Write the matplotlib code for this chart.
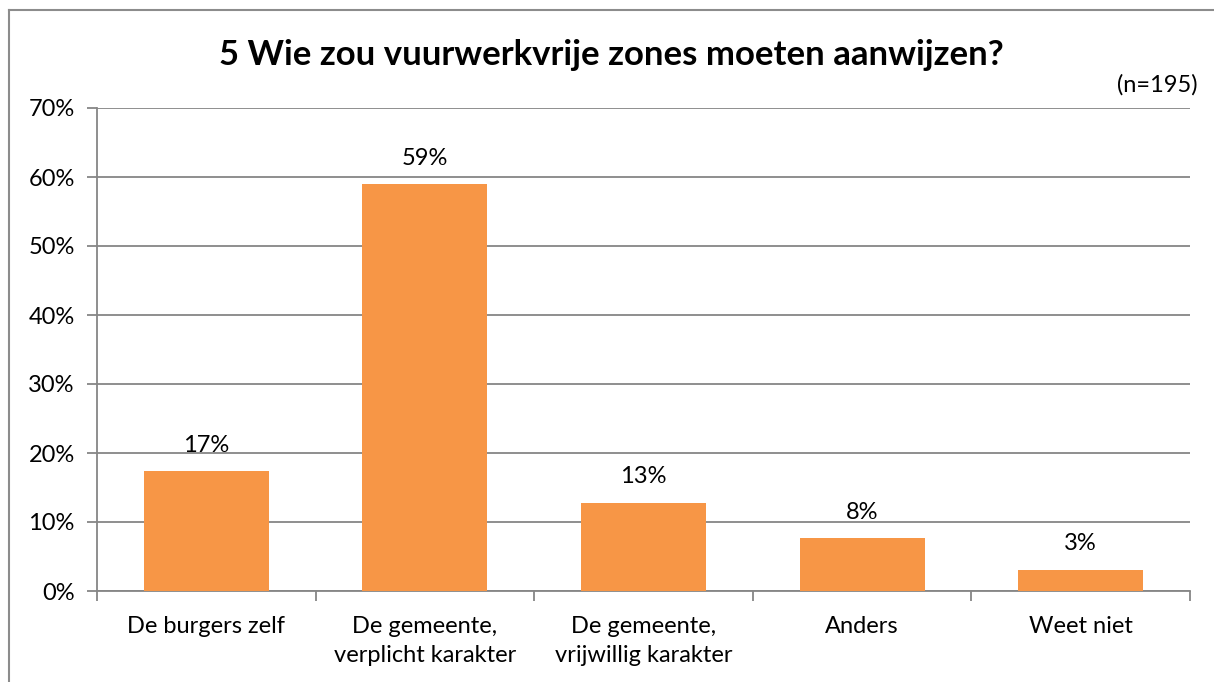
import matplotlib
matplotlib.use("Agg")
import matplotlib.pyplot as plt
from matplotlib.lines import Line2D

categories = ["De burgers zelf", "De gemeente,\nverplicht karakter",
              "De gemeente,\nvrijwillig karakter", "Anders", "Weet niet"]
values = [17.4, 59.0, 12.8, 7.7, 3.1]
labels = ["17%", "59%", "13%", "8%", "3%"]
yticks = [0, 10, 20, 30, 40, 50, 60, 70]
ytick_labels = ["0%", "10%", "20%", "30%", "40%", "50%", "60%", "70%"]
title = "5 Wie zou vuurwerkvrije zones moeten aanwijzen?"
note = "(n=195)"

plt.rcParams['font.family'] = ['Lato', 'DejaVu Sans']

W, H = 1214, 682
fig = plt.figure(figsize=(W / 100, H / 100), dpi=100)
ax = fig.add_axes([97 / W, 1 - 591 / H, (1190 - 97) / W, (591 - 108) / H])

grid_col = "#868686"
bar_col = "#F79646"
fs = 17
x = list(range(len(categories)))
ax.bar(x, values, width=0.572, color=bar_col, zorder=3)
for xi, v, lab in zip(x, values, labels):
    ax.annotate(lab, (xi, v), xytext=(0, 11), textcoords="offset points",
                ha="center", va="bottom", fontsize=fs, color="black")

ax.set_xlim(-0.5, len(categories) - 0.5)
ax.set_ylim(0, 70)
ax.set_yticks(yticks)
ax.set_yticklabels(ytick_labels, fontsize=fs)
ax.set_xticks(x)
ax.set_xticklabels(categories, fontsize=fs, linespacing=1.45)
ax.set_xticks([i - 0.5 for i in range(len(categories) + 1)], minor=True)
ax.tick_params(axis="x", which="major", length=0, pad=18)
ax.tick_params(axis="x", which="minor", length=7, width=1.3, color=grid_col, direction="out")
ax.tick_params(axis="y", length=7, width=1.3, color=grid_col, direction="out", pad=9)
ax.yaxis.grid(True, color=grid_col, linewidth=1.3, zorder=0)
ax.set_axisbelow(True)
for s in ["top", "right"]:
    ax.spines[s].set_visible(False)
for s in ["left", "bottom"]:
    ax.spines[s].set_color(grid_col)
    ax.spines[s].set_linewidth(1.3)

fig.text(611 / W, 1 - 55 / H, title, ha="center", va="center",
         fontsize=25, fontweight="bold")
fig.text(1198 / W, 1 - 85 / H, note, ha="right", va="center", fontsize=fs)

# chart frame (left and top edges)
fig.add_artist(Line2D([9 / W, 9 / W], [0, 1 - 10 / H], transform=fig.transFigure,
                      color="#8c8c8c", linewidth=1.5))
fig.add_artist(Line2D([9 / W, 1], [1 - 10 / H, 1 - 10 / H], transform=fig.transFigure,
                      color="#8c8c8c", linewidth=1.5))

fig.savefig("out.png", dpi=100)
